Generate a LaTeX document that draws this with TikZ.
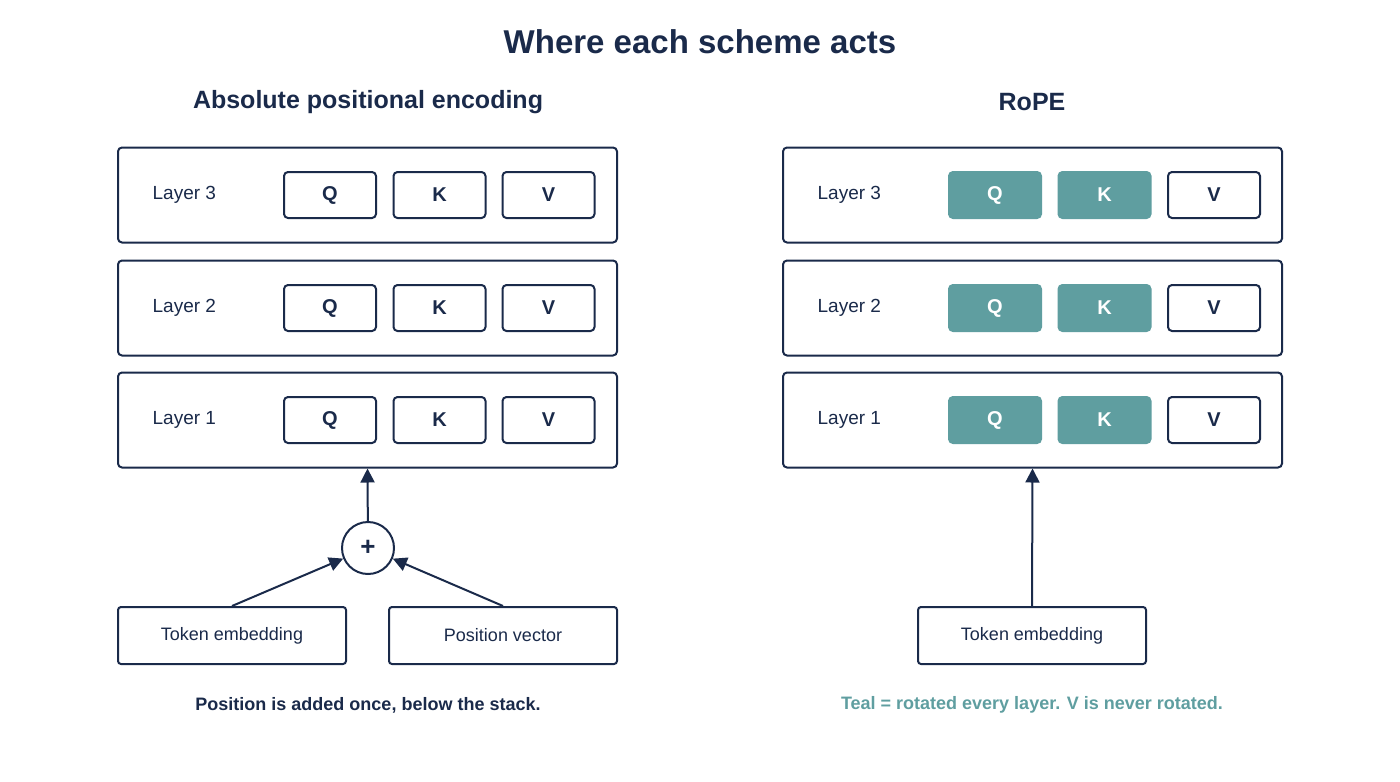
\documentclass[tikz,border=0pt]{standalone}
\usepackage{fontspec}
\setmainfont{Liberation Sans}
\usetikzlibrary{arrows.meta}
\definecolor{navy}{RGB}{26,42,74}
\definecolor{teal}{RGB}{95,158,160}
\tikzset{every picture/.style={line width=1pt}}
\tikzset{
  layerbox/.style={draw=navy, rounded corners=2pt, minimum width=249.5pt, minimum height=47.5pt, fill=white},
  qkvbox/.style={draw=navy, rounded corners=2pt, minimum width=46pt, minimum height=23pt, font=\bfseries\fontsize{10}{12}\selectfont, text=navy},
  rotbox/.style={qkvbox, fill=teal, draw=teal, text=white},
  embbox/.style={draw=navy, rounded corners=1.5pt, minimum width=114pt, minimum height=28.5pt, font=\fontsize{9}{11}\selectfont, text=navy},
  lbl/.style={font=\fontsize{9.5}{11}\selectfont, text=navy, anchor=west},
  conn/.style={draw=navy, -{Triangle[length=7pt,width=7pt]}}
}
\begin{document}
\begin{tikzpicture}[x=0.5pt,y=0.5pt,yscale=-1,xscale=1]
	\useasboundingbox (0,0) rectangle (1400,781);

	% Titles
	\node[font=\bfseries\fontsize{16.5}{20}\selectfont, text=navy] (title) at (700,42) {Where each scheme acts};
	\node[font=\bfseries\fontsize{12.5}{15}\selectfont, text=navy] (abstitle) at (368,102) {Absolute positional encoding};
	\node[font=\bfseries\fontsize{12.5}{15}\selectfont, text=navy] (ropetitle) at (1032,102) {RoPE};

	% Layer stacks
	\foreach \n/\y in {3/195,2/308,1/420}{
		\node[layerbox] (aL\n) at (367.5,\y) {};
		\node[lbl] at (145,\y) {Layer \n};
		\node[qkvbox] (aQ\n) at (330,\y) {Q};
		\node[qkvbox] (aK\n) at (439.5,\y) {K};
		\node[qkvbox] (aV\n) at (548.5,\y) {V};
		\node[layerbox] (rL\n) at (1032.5,\y) {};
		\node[lbl] at (810,\y) {Layer \n};
		\node[rotbox] (rQ\n) at (995,\y) {Q};
		\node[rotbox] (rK\n) at (1104.5,\y) {K};
		\node[qkvbox] (rV\n) at (1214,\y) {V};
	}

	% Sum node
	\node[draw=navy, circle, minimum size=26pt, inner sep=0pt, text=navy, font=\bfseries\fontsize{13}{13}\selectfont] (plus) at (368,548) {+};

	% Inputs
	\node[embbox] (atok) at (232,635.5) {Token embedding};
	\node[embbox] (apos) at (503,635.5) {Position vector};
	\node[embbox] (rtok) at (1032,635.5) {Token embedding};

	% Connectors
	\draw[conn] (atok.north) -- (plus);
	\draw[conn] (apos.north) -- (plus);
	\draw[conn] (plus) -- (aL1.south);
	\draw[conn] (rtok.north) -- (rL1.south);

	% Captions
	\node[font=\bfseries\fontsize{9}{11}\selectfont, text=navy] (acap) at (368,705) {Position is added once, below the stack.};
	\node[font=\bfseries\fontsize{9}{11}\selectfont, text=teal] (rcap) at (1032,705) {Teal = rotated every layer. V is never rotated.};
\end{tikzpicture}
\end{document}
